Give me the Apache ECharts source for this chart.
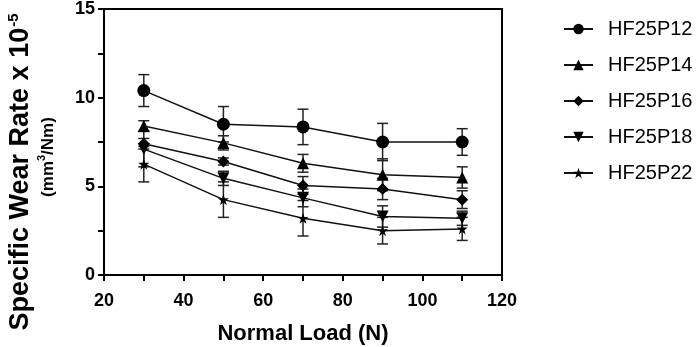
<!DOCTYPE html>
<html>
<head>
<meta charset="utf-8">
<script src="https://cdn.jsdelivr.net/npm/echarts@6/dist/echarts.min.js"></script>
<style>
  html, body { margin: 0; padding: 0; background: #fff; }
  #chart { width: 699px; height: 347px; }
</style>
</head>
<body>
<div id="chart"></div>
<script>
// normal load (N)
const loads = [30, 50, 70, 90, 110]
const seriesNames = ['HF25P12', 'HF25P14', 'HF25P16', 'HF25P18', 'HF25P22']
// specific wear rate x 10^-5 (mm3/Nm)
const p12 = [10.4, 8.5, 8.35, 7.5, 7.5]
const p14 = [8.4, 7.45, 6.3, 5.65, 5.5]
const p16 = [7.4, 6.4, 5.05, 4.85, 4.25]
const p18 = [7.1, 5.45, 4.35, 3.3, 3.2]
const p22 = [6.25, 4.25, 3.2, 2.5, 2.6]
// standard deviation
const p12Err = [0.9, 1.0, 1.0, 1.05, 0.75]
const p14Err = [0.3, 0.4, 0.5, 0.9, 0.6]
const p16Err = [0.3, 0.2, 0.5, 0.6, 0.5]
const p18Err = [1.0, 0.4, 0.5, 0.6, 0.4]
const p22Err = [1.0, 1.0, 1.0, 0.75, 0.65]
const xTicks = [20, 40, 60, 80, 100, 120]
const yTicks = [0, 5, 10, 15]

const starPath = 'path://M50,0 L61.8,35.1 L98.9,35.1 L68.9,56.9 L80.3,91.9 L50,70.2 L19.7,91.9 L31.1,56.9 L1.1,35.1 L38.2,35.1 Z'
const symbols = [
  {symbol: 'circle', size: 13, rotate: 0},
  {symbol: 'triangle', size: 12, rotate: 0},
  {symbol: 'diamond', size: 12, rotate: 0},
  {symbol: 'triangle', size: 12, rotate: 180},
  {symbol: starPath, size: 11, rotate: 0}
]
const values = [p12, p14, p16, p18, p22]
const errors = [p12Err, p14Err, p16Err, p18Err, p22Err]

const chart = echarts.init(document.getElementById('chart'))

const lineSeries = seriesNames.map((name, i) => ({
  name,
  type: 'line',
  z: 3,
  data: loads.map((x, j) => [x, values[i][j]]),
  symbol: symbols[i].symbol,
  symbolSize: symbols[i].size,
  symbolRotate: symbols[i].rotate,
  showAllSymbol: true,
  itemStyle: {color: '#000'},
  lineStyle: {color: '#111', width: 1.5},
  emphasis: {disabled: true}
}))

const errorSeries = seriesNames.map((name, i) => ({
  name: name + ' err',
  type: 'custom',
  z: 2,
  data: loads.map((x, j) => [x, values[i][j] - errors[i][j], values[i][j] + errors[i][j]]),
  renderItem(params, api) {
    const lo = api.coord([api.value(0), api.value(1)])
    const hi = api.coord([api.value(0), api.value(2)])
    const half = 5.5
    const style = {stroke: '#222', lineWidth: 1.5}
    return {
      type: 'group',
      children: [
        {type: 'line', shape: {x1: lo[0], y1: lo[1], x2: hi[0], y2: hi[1]}, style},
        {type: 'line', shape: {x1: lo[0] - half, y1: lo[1], x2: lo[0] + half, y2: lo[1]}, style},
        {type: 'line', shape: {x1: hi[0] - half, y1: hi[1], x2: hi[0] + half, y2: hi[1]}, style}
      ]
    }
  }
}))

const axisFont = {fontFamily: 'Liberation Sans', fontWeight: 'bold', color: '#000'}

const option = {
  animation: false,
  backgroundColor: '#fff',
  grid: {
    left: 104,
    right: 197,
    top: 9,
    bottom: 72,
    outerBoundsMode: 'none',
    containLabel: false,
    show: true,
    borderColor: '#000',
    borderWidth: 2
  },
  legend: {
    data: seriesNames,
    orient: 'vertical',
    left: 558,
    top: 14,
    itemWidth: 29,
    itemHeight: 13,
    itemGap: 16,
    textStyle: {fontFamily: 'Liberation Sans', fontSize: 20, color: '#000', padding: [0, 0, 0, 10]},
    selectedMode: false
  },
  xAxis: {
    type: 'value',
    min: xTicks[0],
    max: xTicks[xTicks.length - 1],
    interval: 20,
    name: 'Normal Load (N)',
    nameLocation: 'middle',
    nameGap: 48,
    nameTextStyle: {...axisFont, fontSize: 22},
    axisLine: {lineStyle: {color: '#000', width: 2}},
    axisTick: {inside: false, length: 6, lineStyle: {color: '#000', width: 2}},
    minorTick: {show: true, splitNumber: 2, length: 6, lineStyle: {color: '#000', width: 2}},
    axisLabel: {...axisFont, fontSize: 18, margin: 17},
    splitLine: {show: false}
  },
  yAxis: {
    type: 'value',
    min: yTicks[0],
    max: yTicks[yTicks.length - 1],
    interval: 5,
    name: '{a|Specific Wear Rate x 10}{supA|-5}\n{b|(mm}{supB|3}{b|/Nm)}{padB|}',
    nameLocation: 'middle',
    nameGap: 44,
    nameTextStyle: {
      ...axisFont,
      fontSize: 27,
      rich: {
        a: {...axisFont, fontSize: 27, lineHeight: 30},
        supA: {...axisFont, fontSize: 15, lineHeight: 30, verticalAlign: 'top', padding: [0, 60, 10, 1]},
        b: {...axisFont, fontSize: 17, lineHeight: 24},
        supB: {...axisFont, fontSize: 11, lineHeight: 24, verticalAlign: 'top', padding: [0, 0, 8, 0]},
        padB: {width: 30, lineHeight: 24}
      }
    },
    axisLine: {lineStyle: {color: '#000', width: 2}},
    axisTick: {inside: false, length: 6, lineStyle: {color: '#000', width: 2}},
    minorTick: {show: true, splitNumber: 2, length: 6, lineStyle: {color: '#000', width: 2}},
    axisLabel: {...axisFont, fontSize: 18, margin: 9},
    splitLine: {show: false}
  },
  series: [...errorSeries, ...lineSeries]
}

chart.setOption(option)
</script>
</body>
</html>
